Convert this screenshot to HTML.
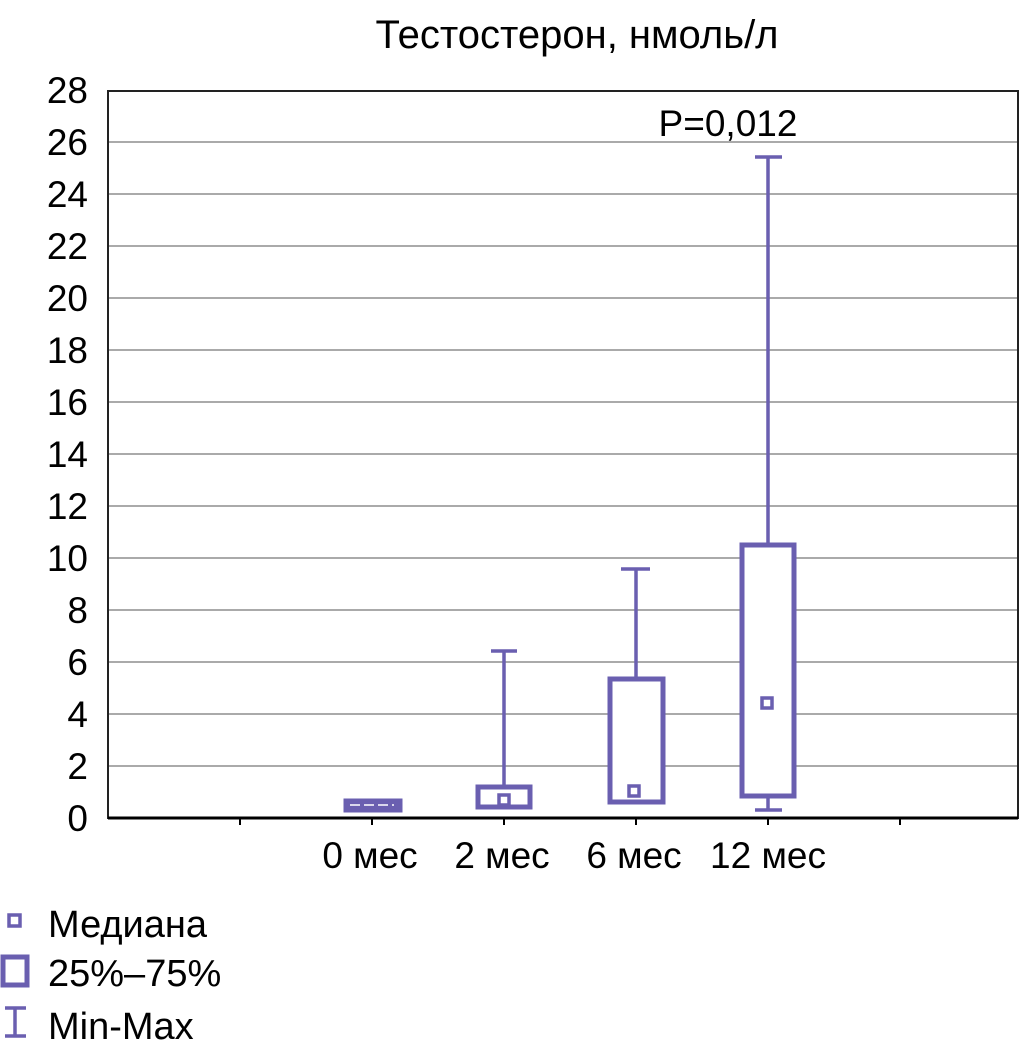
<!DOCTYPE html><html><head><style>body{margin:0;background:#fff}</style></head><body>
<svg width="1034" height="1058" xmlns="http://www.w3.org/2000/svg" font-family="Liberation Sans, DejaVu Sans, sans-serif">
<rect width="1034" height="1058" fill="#fff"/>
<text x="577" y="48" font-size="40" text-anchor="middle">Тестостерон, нмоль/л</text>
<g stroke="#aaa" stroke-width="2">
<line x1="108" x2="1018" y1="766" y2="766"/><line x1="108" x2="1018" y1="714" y2="714"/><line x1="108" x2="1018" y1="662" y2="662"/><line x1="108" x2="1018" y1="610" y2="610"/><line x1="108" x2="1018" y1="558" y2="558"/><line x1="108" x2="1018" y1="506" y2="506"/><line x1="108" x2="1018" y1="454" y2="454"/><line x1="108" x2="1018" y1="402" y2="402"/><line x1="108" x2="1018" y1="350" y2="350"/><line x1="108" x2="1018" y1="298" y2="298"/><line x1="108" x2="1018" y1="246" y2="246"/><line x1="108" x2="1018" y1="194" y2="194"/><line x1="108" x2="1018" y1="142" y2="142"/>
</g>
<rect x="108" y="91" width="910" height="727" fill="none" stroke="#222" stroke-width="2"/>
<line x1="108" x2="1018" y1="818" y2="818" stroke="#000" stroke-width="3"/>
<g stroke="#000" stroke-width="2">
<line x1="240" x2="240" y1="818" y2="825"/><line x1="372" x2="372" y1="818" y2="825"/><line x1="504" x2="504" y1="818" y2="825"/><line x1="636" x2="636" y1="818" y2="825"/><line x1="768" x2="768" y1="818" y2="825"/><line x1="900" x2="900" y1="818" y2="825"/>
</g>
<g font-size="37" text-anchor="end">
<text x="88" y="831">0</text><text x="88" y="779">2</text><text x="88" y="727">4</text><text x="88" y="675">6</text><text x="88" y="623">8</text><text x="88" y="571">10</text><text x="88" y="519">12</text><text x="88" y="467">14</text><text x="88" y="415">16</text><text x="88" y="363">18</text><text x="88" y="311">20</text><text x="88" y="259">22</text><text x="88" y="207">24</text><text x="88" y="155">26</text><text x="88" y="103">28</text>
</g>
<g font-size="37" text-anchor="middle">
<text x="370" y="868">0 мес</text><text x="502" y="868">2 мес</text><text x="634" y="868">6 мес</text><text x="768" y="868">12 мес</text>
<text x="728" y="136">P=0,012</text>
</g>
<g stroke="#6a5fb0" fill="none">
<rect x="346" y="801" width="54" height="9" stroke-width="5" fill="#6a5fb0"/>
<line x1="350" x2="394" y1="805" y2="805" stroke="#fff" stroke-width="1.5" stroke-dasharray="10 4"/>
<line x1="504" x2="504" y1="651" y2="786" stroke-width="3.5"/><line x1="491" x2="517" y1="651" y2="651" stroke-width="3.5"/>
<rect x="478" y="787" width="52" height="20" stroke-width="5" fill="#fff"/>
<rect x="499" y="795" width="10" height="10" stroke-width="3.5"/>
<line x1="636" x2="636" y1="569" y2="679" stroke-width="3.5"/><line x1="621" x2="650" y1="569" y2="569" stroke-width="3.5"/>
<rect x="610" y="679" width="53" height="123" stroke-width="5" fill="#fff"/>
<rect x="629" y="786" width="10" height="10" stroke-width="3.5"/>
<line x1="768" x2="768" y1="157" y2="545" stroke-width="3.5"/><line x1="755" x2="782" y1="157" y2="157" stroke-width="3.5"/>
<line x1="768" x2="768" y1="797" y2="810" stroke-width="3.5"/><line x1="755" x2="782" y1="810" y2="810" stroke-width="3.5"/>
<rect x="742" y="545" width="52" height="251" stroke-width="5" fill="#fff"/>
<rect x="762" y="698" width="10" height="10" stroke-width="3.5"/>
<rect x="9" y="915" width="11" height="11" stroke-width="3.5"/>
<rect x="3" y="957" width="24" height="28" stroke-width="5"/>
<line x1="15" x2="15" y1="1008" y2="1036" stroke-width="3.5"/><line x1="5" x2="26" y1="1008" y2="1008" stroke-width="3.5"/><line x1="5" x2="26" y1="1036" y2="1036" stroke-width="3.5"/>
</g>
<g font-size="38">
<text x="48" y="937">Медиана</text><text x="48" y="986">25%–75%</text><text x="48" y="1039">Min-Max</text>
</g>
</svg></body></html>
